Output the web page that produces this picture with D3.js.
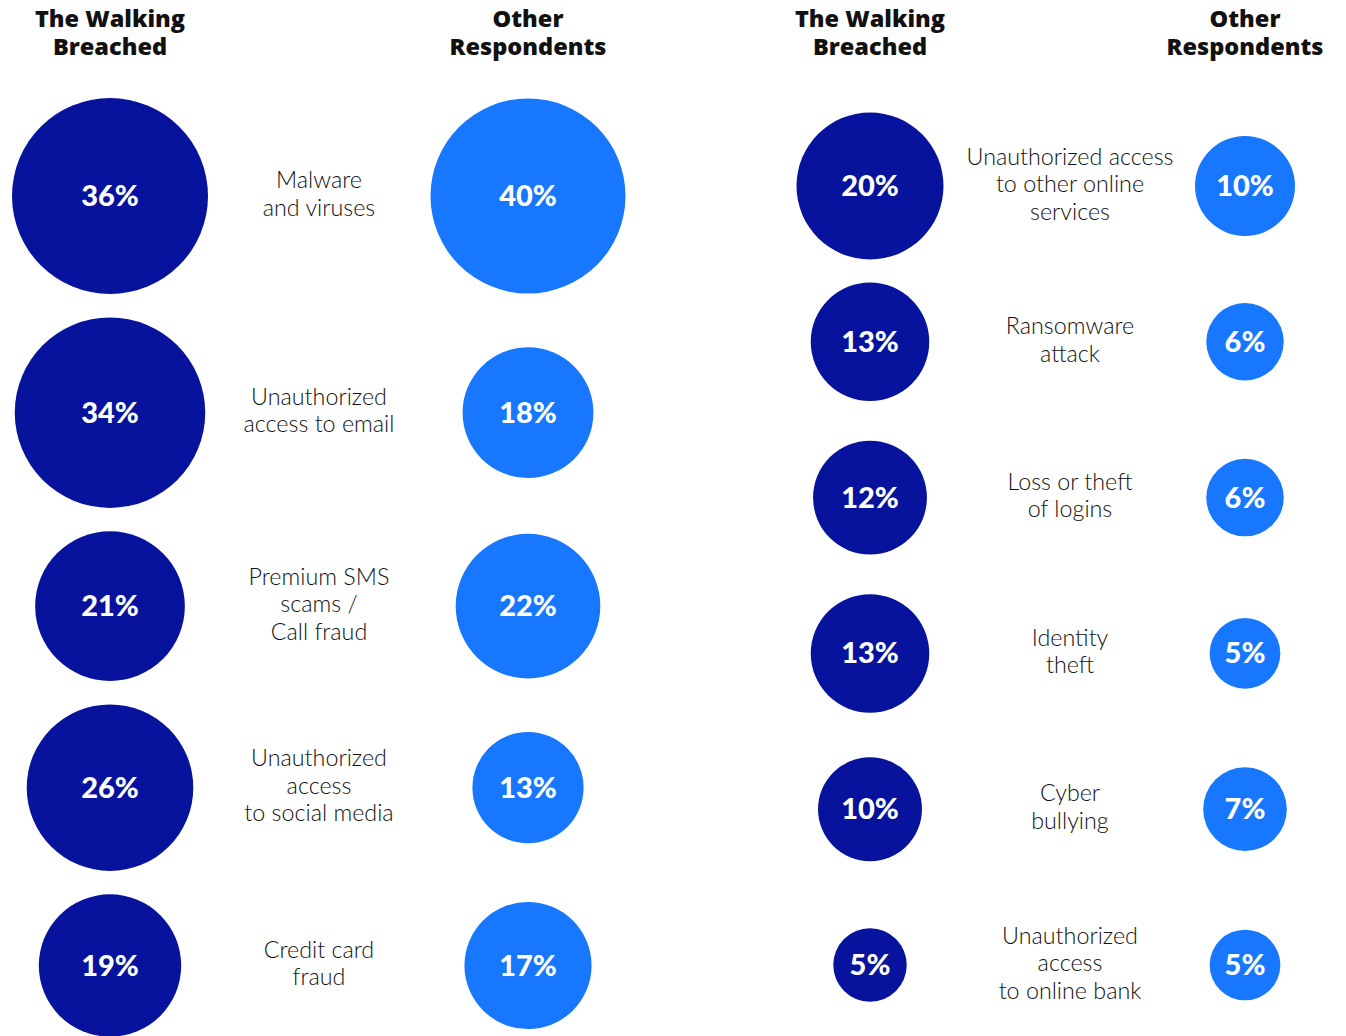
<!DOCTYPE html>
<meta charset="utf-8">
<style>
  body { margin: 0; background: #fff; }
  text { font-family: Lato, "Noto Sans", sans-serif; }
</style>
<script src="https://d3js.org/d3.v7.min.js"></script>
<svg id="chart" width="1346" height="1036"></svg>
<script>

// left panel
const leftCategories = [
  ["Malware", "and viruses"],
  ["Unauthorized", "access to email"],
  ["Premium SMS", "scams /", "Call fraud"],
  ["Unauthorized", "access", "to social media"],
  ["Credit card", "fraud"]
];
const leftBreached = [36, 34, 21, 26, 19];
const leftOther = [40, 18, 22, 13, 17];

// right panel
const rightCategories = [
  ["Unauthorized access", "to other online", "services"],
  ["Ransomware", "attack"],
  ["Loss or theft", "of logins"],
  ["Identity", "theft"],
  ["Cyber", "bullying"],
  ["Unauthorized", "access", "to online bank"]
];
const rightBreached = [20, 13, 12, 13, 10, 5];
const rightOther = [10, 6, 6, 5, 7, 5];

const headers = [["The Walking", "Breached"], ["Other", "Respondents"]];

const dark = "#07139c";
const light = "#1778ff";

const svg = d3.select("#chart");

// header titles
function header(x, lines) {
  const t = svg.append("text")
    .attr("x", x)
    .attr("y", 27)
    .attr("text-anchor", "middle")
    .style("font-family", "'Open Sans', Lato, sans-serif")
    .style("font-size", "23.5px")
    .style("font-weight", 800)
    .attr("fill", "#111");
  lines.forEach((l, i) => t.append("tspan").attr("x", x).attr("dy", i ? 28 : 0).text(l));
}

// stacked = rows packed by circle size with a fixed gap, else evenly spaced
function panel(cats, breached, other, rows, cols, rB, rO, stacked) {
  const sB = d3.scaleSqrt().domain([0, d3.max(breached)]).range([0, rB]);
  const sO = d3.scaleSqrt().domain([0, d3.max(other)]).range([0, rO]);

  let ys;
  if (stacked) {
    const gap = 23.4;
    const rad = breached.map((b, i) => Math.max(sB(b), sO(other[i])));
    ys = [rows[0]];
    for (let i = 1; i < rad.length; i++) ys.push(ys[i - 1] + rad[i - 1] + gap + rad[i]);
  } else {
    const y = d3.scalePoint().domain(d3.range(cats.length)).range(rows);
    ys = cats.map((c, i) => y(i));
  }

  header(cols[0], headers[0]);
  header(cols[2], headers[1]);

  const g = svg.append("g");
  const row = g.selectAll("g.row")
    .data(cats.map((c, i) => ({c: c, b: breached[i], o: other[i], i: i})))
    .join("g")
    .attr("class", "row")
    .attr("transform", d => `translate(0,${ys[d.i]})`);

  [["b", cols[0], sB, dark], ["o", cols[2], sO, light]].forEach(([k, cx, s, col]) => {
    row.append("circle")
      .attr("cx", cx)
      .attr("cy", 0)
      .attr("r", d => s(d[k]))
      .attr("fill", col);
    row.append("text")
      .attr("x", cx)
      .attr("y", 10)
      .attr("text-anchor", "middle")
      .attr("fill", "#fff")
      .style("font-size", "29px")
      .style("font-weight", 900)
      .text(d => d[k] + "%");
  });

  row.append("text")
    .attr("x", cols[1])
    .attr("text-anchor", "middle")
    .attr("fill", "#111")
    .style("font-size", "23.3px")
    .style("font-weight", 300)
    .each(function(d) {
      const n = d.c.length;
      const t = d3.select(this).attr("y", 6 - (n - 1) * 27.5 / 2);
      d.c.forEach((l, i) => t.append("tspan").attr("x", cols[1]).attr("dy", i ? 27.5 : 0).text(l));
    });
}

panel(leftCategories, leftBreached, leftOther, [196, 965], [110, 319, 528], 98, 97.5, true);
panel(rightCategories, rightBreached, rightOther, [186, 965], [870, 1070, 1245], 73.5, 50, false);

</script>
